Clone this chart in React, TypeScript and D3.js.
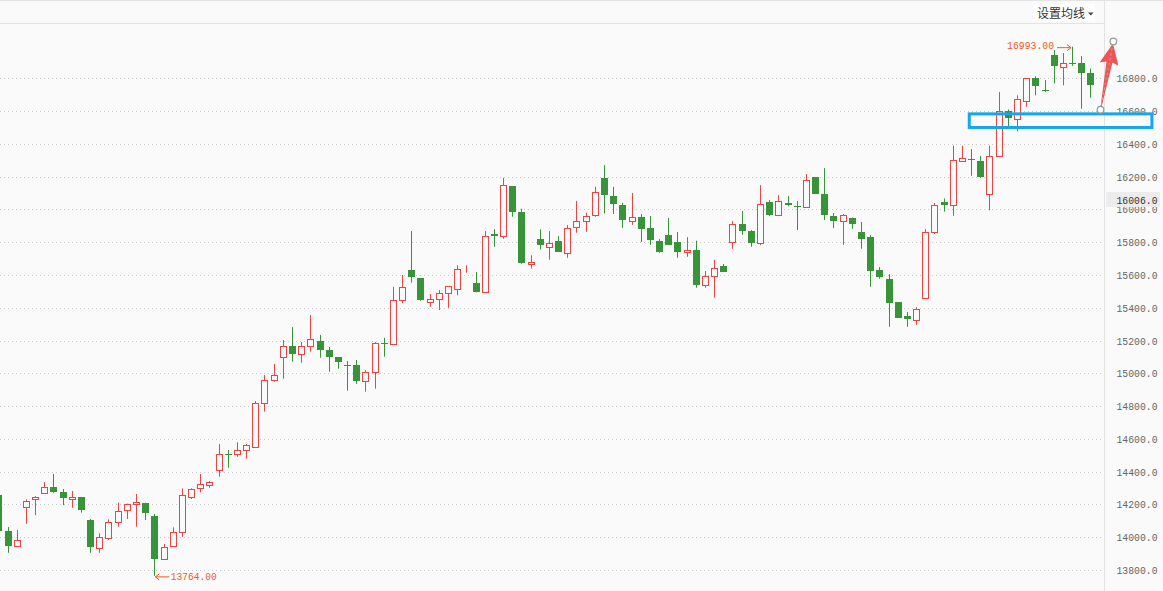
import React, { useEffect, useRef } from 'react';
import * as d3 from 'd3';

const WIDTH = 1163;
const HEIGHT = 591;

// daily candles, oldest first (first one is cut by the left edge)
const opens = [
  14257, 14038, 13945, 14182, 14231, 14268, 14304, 14276, 14235, 14245,
  14105, 13932, 13993, 14091, 14164, 14201, 14207, 14129, 13865, 13945,
  14030, 14244, 14298, 14317, 14408, 14506, 14506, 14530, 14552, 14817,
  14957, 15097, 15164, 15117, 15164, 15197, 15140, 15099, 15050, 15049,
  14951, 15010, 15185, 15177, 15445, 15630, 15580, 15433, 15451, 15488,
  15512, 15640, 15549, 15494, 15850, 15836, 16142, 15984, 15665, 15817,
  15768, 15807, 15732, 15890, 15927, 15964, 16191, 16081, 16026, 15932,
  15951, 15886, 15805, 15844, 15801, 15738, 15752, 15537, 15592, 15652,
  15799, 15911, 15868, 15793, 16045, 15964, 16039, 16018, 16014, 16197,
  16094, 15959, 15927, 15946, 15862, 15829, 15630, 15575, 15435, 15349,
  15327, 15459, 15862, 16045, 16026, 16293, 16310, 16295, 16093, 16327,
  16598, 16549, 16661, 16800, 16728, 16943, 16868, 16891, 16893, 16834,
];
const highs = [
  14270, 14062, 14044, 14231, 14251, 14337, 14386, 14294, 14282, 14245,
  14111, 14024, 14109, 14211, 14205, 14264, 14210, 14142, 13959, 14060,
  14298, 14298, 14386, 14343, 14569, 14532, 14579, 14569, 14831, 14990,
  15057, 15203, 15282, 15191, 15355, 15234, 15160, 15099, 15075, 15081,
  15020, 15191, 15217, 15528, 15600, 15868, 15580, 15484, 15508, 15531,
  15659, 15659, 15618, 15868, 15880, 16193, 16142, 16004, 15720, 15878,
  15868, 15837, 15905, 16051, 15980, 16138, 16270, 16138, 16040, 16100,
  15972, 15960, 15819, 15947, 15862, 15831, 15809, 15624, 15693, 15667,
  15929, 15990, 15874, 16148, 16057, 16087, 16081, 16051, 16216, 16197,
  16252, 15978, 15972, 15951, 15923, 15844, 15648, 15606, 15435, 15374,
  15404, 15880, 16039, 16067, 16389, 16389, 16368, 16325, 16389, 16716,
  16610, 16696, 16800, 16813, 16789, 16972, 16954, 16993, 16935, 16860,
];
const lows = [
  14020, 13905, 13945, 14082, 14135, 14268, 14271, 14196, 14180, 14150,
  13905, 13905, 13983, 14064, 14111, 14064, 14105, 13764, 13865, 13945,
  14003, 14233, 14274, 14302, 14369, 14424, 14491, 14479, 14552, 14766,
  14949, 14967, 15071, 15065, 15132, 15095, 15010, 15028, 14894, 14936,
  14888, 14906, 15101, 15177, 15427, 15553, 15443, 15406, 15386, 15400,
  15476, 15614, 15494, 15494, 15772, 15821, 15955, 15668, 15640, 15756,
  15693, 15742, 15705, 15858, 15864, 15955, 15976, 15972, 15888, 15906,
  15801, 15784, 15736, 15784, 15705, 15711, 15522, 15522, 15461, 15620,
  15760, 15845, 15772, 15782, 15959, 15959, 16020, 15874, 16014, 16095,
  15935, 15886, 15784, 15882, 15760, 15528, 15577, 15284, 15339, 15284,
  15296, 15453, 15850, 15986, 15961, 16293, 16205, 16193, 15995, 16327,
  16508, 16476, 16626, 16696, 16716, 16769, 16757, 16876, 16614, 16681,
];
const closes = [
  14040, 13948, 13981, 14219, 14243, 14304, 14278, 14241, 14245, 14166,
  13942, 13999, 14091, 14158, 14201, 14213, 14146, 13869, 13942, 14030,
  14256, 14292, 14323, 14335, 14506, 14500, 14532, 14562, 14817, 14959,
  14988, 15164, 15119, 15164, 15207, 15144, 15101, 15071, 15044, 14955,
  15006, 15183, 15181, 15447, 15524, 15585, 15448, 15451, 15488, 15531,
  15634, 15643, 15494, 15836, 15839, 16147, 15986, 15675, 15677, 15784,
  15793, 15742, 15884, 15927, 15959, 16104, 16089, 16034, 15937, 15951,
  15882, 15815, 15742, 15784, 15742, 15752, 15540, 15592, 15640, 15620,
  15909, 15870, 15797, 16033, 15965, 16049, 16028, 16014, 16179, 16095,
  15968, 15931, 15964, 15913, 15821, 15626, 15589, 15431, 15339, 15333,
  15390, 15862, 16026, 16028, 16301, 16311, 16304, 16199, 16325, 16600,
  16555, 16671, 16800, 16751, 16724, 16873, 16891, 16887, 16834, 16760,
];

const yTicks = [13800, 14000, 14200, 14400, 14600, 14800, 15000, 15200, 15400, 15600, 15800, 16000, 16200, 16400, 16600, 16800];
const crosshairPrice = 16006;

// hand-drawn marks on the screenshot, in chart coordinates (index, price)
const boxMark = { i0: 105.8, i1: 125.7, p0: 16500, p1: 16583 };
const arrowMark = { i0: 120.1, p0: 16608, i1: 121.5, p1: 17025 };

const BG = '#fafafa';
const RED = '#e84545';
const GREEN = '#389438';
const LABEL = '#ec5a22';
const MONO = '"Liberation Mono", "DejaVu Sans Mono", monospace';

interface Candle {
  open: number;
  high: number;
  low: number;
  close: number;
}

export default function App() {
  const svgRef = useRef<SVGSVGElement>(null);

  useEffect(() => {
    if (!svgRef.current) return;
    d3.select(svgRef.current).selectAll('*').remove();

    const data: Candle[] = opens.map((o, i) => ({ open: o, high: highs[i], low: lows[i], close: closes[i] }));
    const axisX = 1104.5;

    const svg = d3.select(svgRef.current)
      .attr('width', WIDTH)
      .attr('height', HEIGHT);

    const x = d3.scaleLinear().domain([0, data.length - 1]).range([-1.67, 1090.4]);
    const y = d3.scaleLinear().domain([13800, 16800]).range([570, 78.3]);

    svg.append('rect').attr('width', WIDTH).attr('height', HEIGHT).attr('fill', BG);

    // toolbar strip
    svg.append('line').attr('x1', 0).attr('x2', WIDTH).attr('y1', 0.5).attr('y2', 0.5).attr('stroke', '#e4e4e4');
    svg.append('line').attr('x1', 0).attr('x2', axisX).attr('y1', 23.5).attr('y2', 23.5).attr('stroke', '#e4e4e4');
    svg.append('rect').attr('x', 1034).attr('y', 4).attr('width', 61).attr('height', 17).attr('fill', '#fff');
    svg.append('text')
      .attr('x', 1037).attr('y', 18)
      .attr('font-family', '"Noto Sans CJK SC", sans-serif')
      .attr('font-size', 12)
      .attr('fill', '#333')
      .text('设置均线');
    svg.append('path').attr('d', 'M1088,12.5 L1093.5,12.5 L1090.75,15.5 Z').attr('fill', '#444');

    // grid
    svg.append('g')
      .selectAll('line')
      .data(yTicks)
      .enter()
      .append('line')
      .attr('x1', 0)
      .attr('x2', axisX - 1)
      .attr('y1', d => Math.round(y(d)) + 0.5)
      .attr('y2', d => Math.round(y(d)) + 0.5)
      .attr('stroke', '#c8c8c8')
      .attr('stroke-dasharray', '1,3');

    svg.append('line').attr('x1', axisX).attr('x2', axisX).attr('y1', 0).attr('y2', HEIGHT).attr('stroke', '#e2e2e2');

    // axis labels
    svg.append('g')
      .selectAll('text')
      .data(yTicks)
      .enter()
      .append('text')
      .attr('x', 1116.5)
      .attr('y', d => y(d) + 4)
      .attr('font-family', MONO)
      .attr('font-size', 11)
      .attr('textLength', 41)
      .attr('lengthAdjust', 'spacingAndGlyphs')
      .attr('fill', '#666')
      .text(d => d3.format('.1f')(d));

    // candles
    const g = svg.append('g');
    data.forEach((d, i) => {
      const cx = Math.round(x(i));
      const up = d.close >= d.open;
      const color = up ? RED : GREEN;
      const top = Math.round(y(Math.max(d.open, d.close)));
      const bot = Math.round(y(Math.min(d.open, d.close)));
      g.append('line')
        .attr('x1', cx + 0.5).attr('x2', cx + 0.5)
        .attr('y1', y(d.high)).attr('y2', y(d.low))
        .attr('stroke', color);
      if (up) {
        g.append('rect')
          .attr('x', cx - 2.5).attr('y', top + 0.5)
          .attr('width', 6).attr('height', Math.max(0, bot - top))
          .attr('fill', BG).attr('stroke', color);
      } else {
        g.append('rect')
          .attr('x', cx - 3).attr('y', top)
          .attr('width', 7).attr('height', Math.max(1, bot - top))
          .attr('fill', color);
      }
    });

    // max / min markers
    const hiIdx = d3.maxIndex(data, d => d.high);
    const loIdx = d3.minIndex(data, d => d.low);
    const hx = x(hiIdx), hy = y(data[hiIdx].high);
    const lx = x(loIdx), ly = y(data[loIdx].low);

    svg.append('path')
      .attr('d', `M${hx - 15},${hy + 1} L${hx - 1},${hy + 1} M${hx - 5},${hy - 2} L${hx - 1},${hy + 1} L${hx - 5},${hy + 4}`)
      .attr('fill', 'none').attr('stroke', LABEL);
    svg.append('text')
      .attr('x', hx - 18).attr('y', hy + 2.5)
      .attr('text-anchor', 'end')
      .attr('font-family', MONO).attr('font-size', 11)
      .attr('textLength', 47).attr('lengthAdjust', 'spacingAndGlyphs')
      .attr('fill', LABEL)
      .text(d3.format('.2f')(data[hiIdx].high));

    svg.append('path')
      .attr('d', `M${lx + 15},${ly + 1} L${lx + 1},${ly + 1} M${lx + 5},${ly - 2} L${lx + 1},${ly + 1} L${lx + 5},${ly + 4}`)
      .attr('fill', 'none').attr('stroke', LABEL);
    svg.append('text')
      .attr('x', lx + 16.5).attr('y', ly + 4)
      .attr('font-family', MONO).attr('font-size', 11)
      .attr('textLength', 46).attr('lengthAdjust', 'spacingAndGlyphs')
      .attr('fill', LABEL)
      .text(d3.format('.2f')(data[loIdx].low));

    // crosshair price tag
    const cy = y(crosshairPrice);
    svg.append('rect').attr('x', 1106).attr('y', cy - 16.5).attr('width', 54).attr('height', 15).attr('fill', '#ececec');
    svg.append('text')
      .attr('x', 1116.5).attr('y', cy - 4.5)
      .attr('font-family', MONO).attr('font-size', 11)
      .attr('textLength', 41).attr('lengthAdjust', 'spacingAndGlyphs')
      .attr('fill', '#333')
      .text(d3.format('.1f')(crosshairPrice));

    // blue box annotation
    svg.append('rect')
      .attr('x', x(boxMark.i0)).attr('y', y(boxMark.p1))
      .attr('width', x(boxMark.i1) - x(boxMark.i0))
      .attr('height', y(boxMark.p0) - y(boxMark.p1))
      .attr('fill', 'none')
      .attr('stroke', '#16a6ef')
      .attr('stroke-width', 3);

    // red arrow annotation
    const ax0 = x(arrowMark.i0), ay0 = y(arrowMark.p0);
    const ax1 = x(arrowMark.i1), ay1 = y(arrowMark.p1);
    const ang = Math.atan2(ay1 - ay0, ax1 - ax0);
    const len = Math.hypot(ax1 - ax0, ay1 - ay0);
    const pt = (along: number, side: number) => {
      const px = ax0 + Math.cos(ang) * along - Math.sin(ang) * side;
      const py = ay0 + Math.sin(ang) * along + Math.cos(ang) * side;
      return `${px},${py}`;
    };
    const headStart = len - 23;
    svg.append('path')
      .attr('d', `M${pt(3, -0.5)} L${pt(headStart + 2, -3)} L${pt(headStart, -9.5)} L${pt(len - 2, 0)} L${pt(headStart, 9.5)} L${pt(headStart + 2, 3)} L${pt(3, 0.5)} Z`)
      .attr('fill', '#f25252');
    svg.append('line')
      .attr('x1', ax0).attr('y1', ay0).attr('x2', ax1).attr('y2', ay1)
      .attr('stroke', '#aaa').attr('stroke-dasharray', '3,2');
    [[ax0, ay0], [ax1, ay1]].forEach(([px, py]) => {
      svg.append('circle')
        .attr('cx', px).attr('cy', py).attr('r', 3.3)
        .attr('fill', '#fff').attr('stroke', '#999').attr('stroke-width', 1.2);
    });
  }, []);

  return (
    <svg ref={svgRef} style={{ position: 'absolute', left: 0, top: 0, display: 'block' }} />
  );
}
